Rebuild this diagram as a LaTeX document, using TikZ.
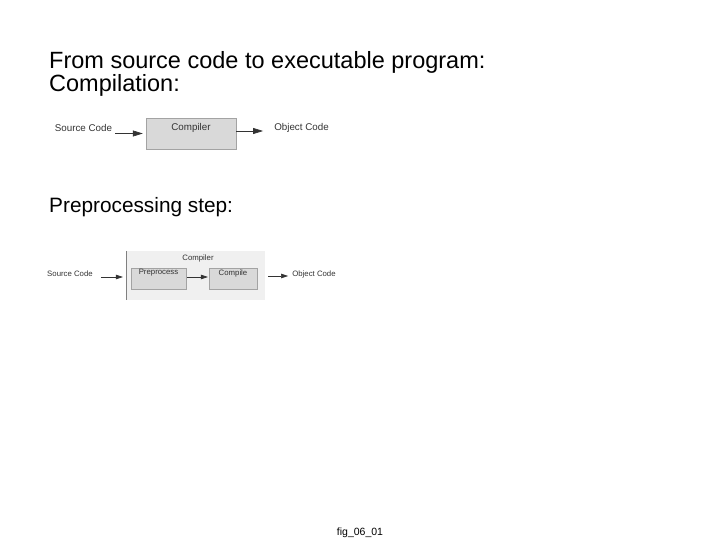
\documentclass[tikz,border=0pt]{standalone}
\usepackage{fontspec}
\setmainfont{Liberation Sans}
\usetikzlibrary{arrows.meta}
\definecolor{ink}{HTML}{333333}
\definecolor{boxfill}{HTML}{D9D9D9}
\definecolor{panefill}{HTML}{F0F0F0}
\tikzset{
  title/.style={anchor=base west, inner sep=0pt, font=\fontsize{23.5}{27}\selectfont},
  lblbig/.style={inner sep=0pt, text=ink, font=\fontsize{9.8}{11}\selectfont},
  lblsmall/.style={inner sep=0pt, text=ink, font=\fontsize{7.8}{9}\selectfont},
  compbox/.style={draw=boxfill!75!black, fill=boxfill, inner sep=0pt},
  arrbig/.style={draw=ink, line width=0.7pt, -{Triangle[length=10pt,width=6pt]}},
  arrsmall/.style={draw=ink, line width=0.6pt, -{Triangle[length=7pt,width=4.5pt]}}
}
\begin{document}
\begin{tikzpicture}[x=1pt,y=-1pt]
\useasboundingbox (0,0) rectangle (720,540);
% headings
\node[title] (head) at (49,69) {From source code to executable program:};
\node[title] (compilation) at (49,92) {Compilation:};
\node[title, font=\fontsize{20.8}{25}\selectfont] (prepstep) at (49,212) {Preprocessing step:};

% compilation
\node[lblbig] (src) at (83.5,128) {Source Code};
\node[compbox, minimum width=90pt, minimum height=31pt] (comp) at (191,133.5) {};
\node[lblbig] (complbl) at (191,128) {Compiler};
\node[lblbig] (obj) at (301.5,128) {Object Code};
\coordinate (lv1) at ([yshift=2.5pt]comp.east);
\draw[arrbig, shorten <=3pt, shorten >=3pt] (src.east |- comp.west) -- (comp.west);
\draw[arrbig, shorten >=11pt] (lv1) -- (obj.west |- lv1);

% compilation with preprocessing
\node[fill=panefill, minimum width=139pt, minimum height=49pt, inner sep=0pt] (pane) at (195.5,275.5) {};
\draw[gray, line width=0.6pt] (pane.north west) -- (pane.south west);
\node[lblsmall] (panelbl) at (198,258) {Compiler};
\node[lblsmall] (src2) at (70,274) {Source Code};
\node[compbox, minimum width=55pt, minimum height=21pt] (prep) at (158.5,278.5) {};
\node[lblsmall] (preplbl) at (158.5,273) {Preprocess};
\node[compbox, minimum width=48pt, minimum height=21pt] (cmpl) at (233,278.5) {};
\node[lblsmall] (cmpllbl) at (233,273) {Compile};
\node[lblsmall] (obj2) at (314,274) {Object Code};
\coordinate (lv2) at ([yshift=1.5pt]prep.west);
\coordinate (lv3) at ([yshift=2.5pt]cmpl.east);
\draw[arrsmall, shorten <=8pt, shorten >=3pt] (src2.east |- lv2) -- (pane.west |- lv2);
\draw[arrsmall, shorten <=1pt, shorten >=1pt] (lv2 -| prep.east) -- (cmpl.west |- lv2);
\draw[arrsmall, shorten <=3pt, shorten >=4pt] (pane.east |- lv3) -- (obj2.west |- lv3);

\node[inner sep=0pt, font=\fontsize{10.5}{12}\selectfont] (figno) at (360,533) {fig\_06\_01};
\end{tikzpicture}
\end{document}
